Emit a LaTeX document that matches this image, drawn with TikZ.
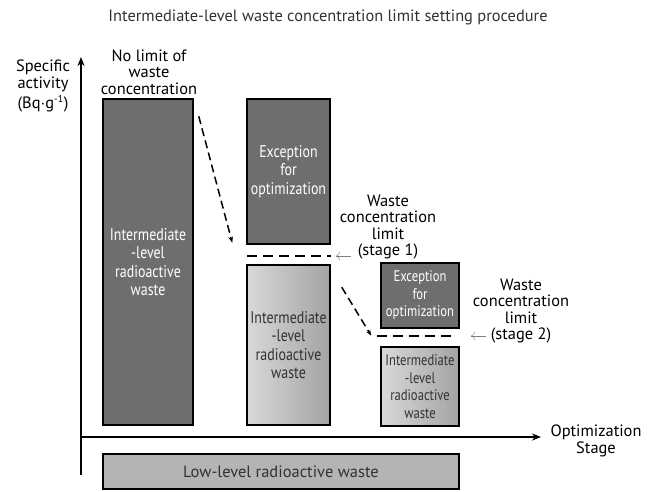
\documentclass[tikz,border=0pt]{standalone}
\usepackage{fontspec}
\usepackage{tikz}
\usepackage{xcolor}
\usetikzlibrary{arrows.meta}
\setmainfont{PT Sans}
\newfontfamily\narrowfont[FakeStretch=0.82]{PT Sans}
\definecolor{darkbox}{RGB}{110,110,110}
\definecolor{lowbox}{RGB}{180,180,180}
\definecolor{titlegray}{RGB}{50,50,50}

\begin{document}
\begin{tikzpicture}[x=1pt, y=-1pt, every node/.style={align=center, font=\fontsize{16.4}{16.4}\selectfont}]
			\useasboundingbox (0,0) rectangle (651,491);

			% Title
			\node[text=titlegray] (title) at (328,17) {Intermediate-level waste concentration limit setting procedure};

			% Axes
			\coordinate (ybot) at (81,475);
			\coordinate (ytop) at (81,57);
			\coordinate (xleft) at (81,437);
			\coordinate (xright) at (541,437);
			\draw[line width=1.6pt, -{Stealth[length=9pt, width=7pt]}] (ybot) -- (ytop);
			\draw[line width=1.6pt, -{Stealth[length=9pt, width=7pt]}] (xleft) -- (xright);
			\node[font=\fontsize{16.4}{17}\selectfont] (ylabel) at (43,86) {Specific\\activity\\[3pt](Bq$\cdot$g\textsuperscript{\fontsize{10}{10}\selectfont -1})};
			\node (xlabel) at (596,441) {Optimization\\Stage};

			% Waste boxes
			\node[draw, line width=1.5pt, fill=darkbox, text=white, minimum width=90, minimum height=326, font=\narrowfont\fontsize{17}{18.5}\selectfont] (ilw0) at (148,262) {Intermediate\\-level\\radioactive\\waste};
			\node[draw, line width=1.5pt, fill=darkbox, text=white, minimum width=83, minimum height=145, font=\narrowfont\fontsize{17}{18.5}\selectfont] (exc1) at (288.5,171.5) {Exception\\for\\optimization};
			\node[draw, line width=1.5pt, left color=gray!30, right color=gray!72, text=titlegray, minimum width=83, minimum height=160, font=\narrowfont\fontsize{17}{18.5}\selectfont] (ilw1) at (288.5,345) {Intermediate\\-level\\radioactive\\waste};
			\node[draw, line width=1.5pt, fill=darkbox, text=white, minimum width=78, minimum height=65, font=\narrowfont\fontsize{15.4}{17.5}\selectfont] (exc2) at (420,295.5) {Exception\\for\\optimization};
			\node[draw, line width=1.5pt, left color=gray!30, right color=gray!72, text=titlegray, minimum width=78, minimum height=79, font=\narrowfont\fontsize{15.4}{17.5}\selectfont] (ilw2) at (420,386.5) {Intermediate\\-level\\radioactive\\waste};
			\node[draw, line width=1.5pt, fill=lowbox, text=titlegray, minimum width=356, minimum height=35, font=\fontsize{16.5}{18}\selectfont] (llw) at (281,471.5) {Low-level radioactive waste};

			% Labels
			\node (nolimit) at (149,72) {No limit of\\waste\\concentration};
			\node (lab1) at (388,227) {Waste\\concentration\\limit\\(stage 1)};
			\node (lab2) at (521,311) {Waste\\concentration\\limit\\(stage 2)};

			% Limit lines
			\coordinate (lim1a) at (247,256);
			\coordinate (lim1b) at (331,256);
			\coordinate (lim2a) at (377,336);
			\coordinate (lim2b) at (456,336);
			\draw[line width=2.4pt, dash pattern=on 10pt off 6pt] (lim1a) -- (lim1b);
			\draw[line width=2.4pt, dash pattern=on 10pt off 6pt] (lim2a) -- (lim2b);

			% Arrows
			\coordinate (tail1) at (351,256);
			\coordinate (tail2) at (486,336);
			\draw[gray, -{To[length=4pt]}] (tail1) -- ([xshift=5]lim1b);
			\draw[gray, -{To[length=4pt]}] (tail2) -- ([xshift=15]lim2b);
			\draw[line width=1.5pt, dash pattern=on 8pt off 4.5pt, -{Stealth[length=6pt]}] ([shift={(5,18)}]ilw0.north east) -- ([shift={(-14,-2)}]exc1.south west);
			\draw[line width=1.5pt, dash pattern=on 8pt off 4.5pt, -{Stealth[length=6pt]}] ([shift={(11,23)}]ilw1.north east) -- ([shift={(-9,7)}]exc2.south west);
		\end{tikzpicture}
\end{document}
